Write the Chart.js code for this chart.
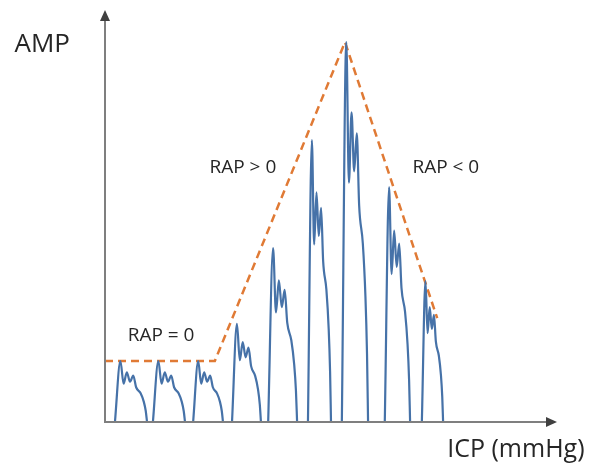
<!DOCTYPE html>
<html lang="en">
<head>
    <meta charset="UTF-8">
    <title>AMP vs ICP</title>
    <script src="https://cdn.jsdelivr.net/npm/chart.js"></script>
    <style>
        body {
            margin: 0;
            background: #fff;
        }
        #wrap {
            width: 589px;
            height: 473px;
        }
    </style>
</head>
<body>
    <div id="wrap"><canvas id="ampChart"></canvas></div>
    <script>
        // pulse starts / ends on the ICP axis and their peak amplitude (0-100 units)
        const pulseStart = [2.2, 10.6, 19.5, 28.1, 36.1, 44.9, 52.4, 61.9, 70.1];
        const pulseEnd   = [9.3, 17.7, 26.1, 34.5, 42.5, 50.0, 58.2, 67.5, 74.8];
        const pulsePeak  = [14.8, 14.8, 14.8, 23.8, 42.2, 68.4, 92.2, 57.0, 34.2];

        // one pulse shape: fraction of width, fraction of peak
        const shapeT = [0, 0.17, 0.27, 0.37, 0.47, 0.57, 0.66, 0.80, 0.90, 0.96, 1.0];
        const shapeA = [0, 1.0, 0.63, 0.815, 0.66, 0.76, 0.57, 0.47, 0.33, 0.18, 0];

        // dashed envelope
        const envX = [0, 24.3, 53.1, 73.5];
        const envY = [14.8, 14.8, 92.2, 25.2];

        const notes = [
            { text: 'RAP = 0', x: 12.4, y: 20.9 },
            { text: 'RAP > 0', x: 30.5, y: 61.7 },
            { text: 'RAP < 0', x: 75.4, y: 61.7 }
        ];

        const pulseSets = pulseStart.map((s, i) => {
            const w = pulseEnd[i] - s;
            return {
                data: shapeT.map((t, k) => ({ x: s + t * w, y: shapeA[k] * pulsePeak[i] })),
                borderColor: '#4672a8',
                borderWidth: 2.2,
                pointRadius: 0,
                cubicInterpolationMode: 'monotone',
                clip: false
            };
        });

        const envelope = {
            data: envX.map((x, i) => ({ x: x, y: envY[i] })),
            borderColor: '#e07a35',
            borderWidth: 2.5,
            borderDash: [8, 5],
            pointRadius: 0,
            tension: 0,
            clip: false
        };

        // axes with arrow heads and the free text
        const decor = {
            id: 'decor',
            afterDatasetsDraw(chart) {
                const ctx = chart.ctx;
                const a = chart.chartArea;
                const xs = chart.scales.x, ys = chart.scales.y;
                ctx.save();
                ctx.strokeStyle = '#7f7f7f';
                ctx.fillStyle = '#404040';
                ctx.lineWidth = 2;
                ctx.beginPath();
                ctx.moveTo(a.left, a.top + 8);
                ctx.lineTo(a.left, a.bottom);
                ctx.lineTo(a.right - 8, a.bottom);
                ctx.stroke();
                ctx.beginPath();
                ctx.moveTo(a.left, a.top);
                ctx.lineTo(a.left - 5, a.top + 11);
                ctx.lineTo(a.left + 5, a.top + 11);
                ctx.closePath();
                ctx.fill();
                ctx.beginPath();
                ctx.moveTo(a.right, a.bottom);
                ctx.lineTo(a.right - 11, a.bottom - 5);
                ctx.lineTo(a.right - 11, a.bottom + 5);
                ctx.closePath();
                ctx.fill();

                ctx.fillStyle = '#262626';
                ctx.textAlign = 'center';
                ctx.textBaseline = 'middle';
                ctx.font = '19px "Open Sans"';
                notes.forEach(n => {
                    ctx.fillText(n.text, xs.getPixelForValue(n.x), ys.getPixelForValue(n.y));
                });
                ctx.font = '26px "Open Sans"';
                ctx.fillText('AMP', xs.getPixelForValue(-13.9), ys.getPixelForValue(91.5));
                ctx.font = '25px "Open Sans"';
                ctx.fillText('ICP (mmHg)', xs.getPixelForValue(90.9), ys.getPixelForValue(-6.8));
                ctx.restore();
            }
        };

        new Chart(document.getElementById('ampChart'), {
            type: 'line',
            data: { datasets: [...pulseSets, envelope] },
            options: {
                responsive: true,
                maintainAspectRatio: false,
                animation: false,
                layout: { padding: { left: 105, right: 32, top: 10, bottom: 51 } },
                scales: {
                    x: { type: 'linear', min: 0, max: 100, display: false },
                    y: { type: 'linear', min: 0, max: 100, display: false }
                },
                plugins: {
                    legend: { display: false },
                    tooltip: { enabled: false }
                }
            },
            plugins: [decor]
        });
    </script>
</body>
</html>
